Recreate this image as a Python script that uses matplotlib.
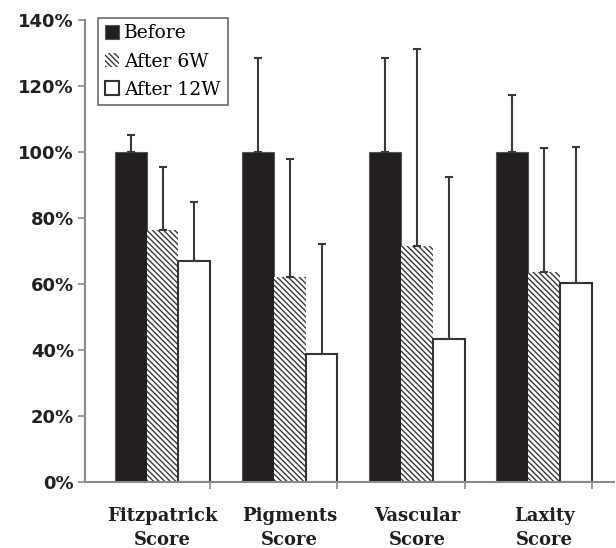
import matplotlib
matplotlib.use("Agg")
import matplotlib.pyplot as plt
import numpy as np
from matplotlib.ticker import FuncFormatter, FixedLocator

categories = ["Fitzpatrick\nScore", "Pigments\nScore", "Vascular\nScore", "Laxity\nScore"]
series_names = ["Before", "After 6W", "After 12W"]
before = [100, 100, 100, 100]
after6 = [76.4, 62.0, 71.6, 63.7]
after12 = [67.1, 38.8, 43.2, 60.4]
err_before = [5.2, 28.5, 28.6, 17.3]
err_after6 = [19.0, 35.9, 59.5, 37.4]
err_after12 = [17.8, 33.3, 49.3, 41.0]
yticks = [0, 20, 40, 60, 80, 100, 120, 140]

plt.rcParams['hatch.linewidth'] = 1.0

fig = plt.figure(figsize=(6.16, 5.48), dpi=100)
ax = fig.add_axes([85/616, 66/548, 529/616, 462/548])

x = np.arange(len(categories))
w = 0.25
spine_c = '#8a8a8a'
err_kw = dict(ecolor='#3a3a3a', elinewidth=1.5, capsize=2.6, capthick=1.5)

lower = [0]*4
ax.bar(x - w, before, w, color='#231f20', edgecolor='#555555', linewidth=0.8,
       yerr=[lower, err_before], error_kw=err_kw, label=series_names[0], zorder=2)
ax.bar(x, after6, w, color='white', edgecolor='#3a3a3a', hatch='\\\\\\\\\\\\', linewidth=0,
       yerr=[lower, err_after6], error_kw=err_kw, label=series_names[1], zorder=2)
ax.bar(x + w, after12, w, color='white', edgecolor='#333333', linewidth=1.5,
       yerr=[lower, err_after12], error_kw=err_kw, label=series_names[2], zorder=2)

ax.set_xlim(-0.61, 3.55)
ax.set_ylim(0, 140)
ax.set_yticks(yticks)
ax.yaxis.set_major_formatter(FuncFormatter(lambda v, p: f"{int(v)}%"))
for lab in ax.get_yticklabels():
    lab.set_fontfamily('DejaVu Sans')
    lab.set_fontweight('bold')
    lab.set_fontsize(13)
    lab.set_color('#231f20')
ax.tick_params(axis='y', direction='out', length=5, width=1.2, color=spine_c, pad=3)

ax.set_xticks(x)
ax.set_xticklabels(categories, fontfamily='DejaVu Serif', fontweight='bold', fontsize=13,
                   color='#231f20', linespacing=1.4)
ax.tick_params(axis='x', which='major', length=0, pad=18)
ax.xaxis.set_minor_locator(FixedLocator(x + 1.5*w))
ax.tick_params(axis='x', which='minor', direction='out', length=5, width=1.2, color=spine_c)

for s in ['top', 'right']:
    ax.spines[s].set_visible(False)
for s in ['left', 'bottom']:
    ax.spines[s].set_color(spine_c)
    ax.spines[s].set_linewidth(1.5)

leg = ax.legend(loc='upper left', bbox_to_anchor=(0.025, 1.005), frameon=True, fancybox=False,
                edgecolor='#444444', prop={'family': 'DejaVu Serif', 'size': 13.5},
                handlelength=0.75, handleheight=0.75, handletextpad=0.3, borderpad=0.35,
                labelspacing=0.55, borderaxespad=0)
leg.get_frame().set_linewidth(1.2)

fig.savefig("out.png", dpi=100)
